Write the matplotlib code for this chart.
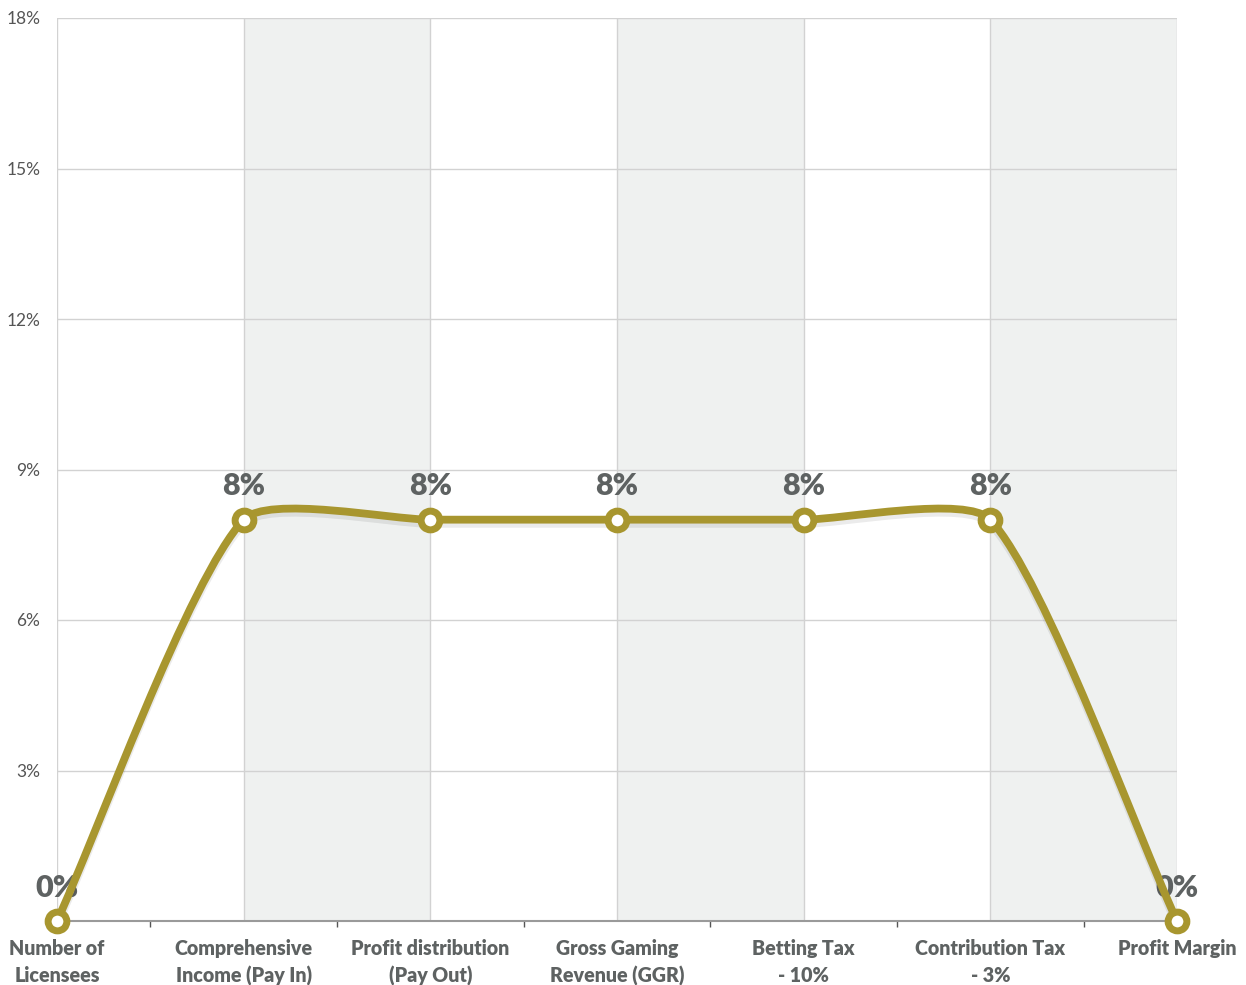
import numpy as np
import matplotlib
matplotlib.use("Agg")
import matplotlib.pyplot as plt
from matplotlib.path import Path
from matplotlib.patches import PathPatch
import matplotlib.patheffects as pe

categories = ["Number of\nLicensees", "Comprehensive\nIncome (Pay In)", "Profit distribution\n(Pay Out)",
              "Gross Gaming\nRevenue (GGR)", "Betting Tax\n- 10%", "Contribution Tax\n- 3%", "Profit Margin"]
values = [0, 8, 8, 8, 8, 8, 0]
value_labels = ["0%", "8%", "8%", "8%", "8%", "8%", "0%"]
yticks = [0, 3, 6, 9, 12, 15, 18]
ytick_labels = ["", "3%", "6%", "9%", "12%", "15%", "18%"]

LINE = "#a8962f"
TEXT = "#5e6262"
BAND = "#eff1f0"
GRID = "#d2d2d2"

plt.rcParams['font.family'] = ['Lato', 'DejaVu Sans']

fig = plt.figure(figsize=(12.46, 9.85), dpi=100)
ax = fig.add_axes([57/1246, 64/985, 1120/1246, 903/985])
n = len(categories)
x = np.arange(n)
ax.set_xlim(0, n - 1)
ax.set_ylim(0, 18)

for i in range(1, n - 1, 2):
    ax.axvspan(i, i + 1, color=BAND, zorder=0, lw=0)

for yv in yticks[1:]:
    ax.axhline(yv, color=GRID, lw=1, zorder=1)
for xv in x:
    ax.axvline(xv, color=GRID, lw=1, zorder=1)

for s in ["top", "right", "left"]:
    ax.spines[s].set_visible(False)
ax.spines["bottom"].set_color("#9a9a9a")
ax.spines["bottom"].set_linewidth(1.5)
ax.spines["bottom"].set_zorder(2)

ax.set_yticks(yticks)
ax.set_yticklabels(ytick_labels, fontsize=12.5, color="#555555")
ax.tick_params(axis="y", length=0, pad=12)
ax.set_xticks(x)
ax.set_xticklabels(categories, fontsize=14.1, fontweight="heavy", color=TEXT, linespacing=1.5)
ax.tick_params(axis="x", length=0, pad=13)
ax.set_xticks(x[:-1] + 0.5, minor=True)
ax.tick_params(axis="x", which="minor", length=4, width=1, color="#555555")

# smooth spline (Chart.js style) computed in display coordinates
pts = ax.transData.transform(np.column_stack([x, values]))
tension = 0.21
cp_prev = np.zeros_like(pts)
cp_next = np.zeros_like(pts)
for i in range(n):
    cur = pts[i]
    prev = pts[i - 1] if i > 0 else cur
    nxt = pts[i + 1] if i < n - 1 else cur
    d01 = np.hypot(*(cur - prev))
    d12 = np.hypot(*(nxt - cur))
    tot = d01 + d12
    fa = tension * d01 / tot if tot else 0
    fb = tension * d12 / tot if tot else 0
    cp_prev[i] = cur - fa * (nxt - prev)
    cp_next[i] = cur + fb * (nxt - prev)

verts = [pts[0]]
codes = [Path.MOVETO]
for i in range(n - 1):
    verts += [cp_next[i], cp_prev[i + 1], pts[i + 1]]
    codes += [Path.CURVE4] * 3
inv = ax.transData.inverted()
verts_data = inv.transform(np.array(verts))
path = Path(verts_data, codes)
patch = PathPatch(path, facecolor="none", edgecolor=LINE, lw=5.6, zorder=5,
                  transform=ax.transData, clip_on=False, capstyle="round", joinstyle="round")
patch.set_path_effects([pe.SimpleLineShadow(offset=(0, -3), shadow_color="#000000", alpha=0.08),
                        pe.Normal()])
ax.add_patch(patch)

ax.plot(x, values, linestyle="none", marker="o", markersize=13.5, markerfacecolor="white",
        markeredgecolor=LINE, markeredgewidth=5, zorder=6, clip_on=False)

for xi, v, lab in zip(x, values, value_labels):
    ax.annotate(lab, (xi, v), xytext=(0, 14), textcoords="offset points", ha="center", va="bottom",
                fontsize=22, fontweight="heavy", color=TEXT, zorder=4, annotation_clip=False)

fig.savefig("out.png", dpi=100, facecolor="white")
